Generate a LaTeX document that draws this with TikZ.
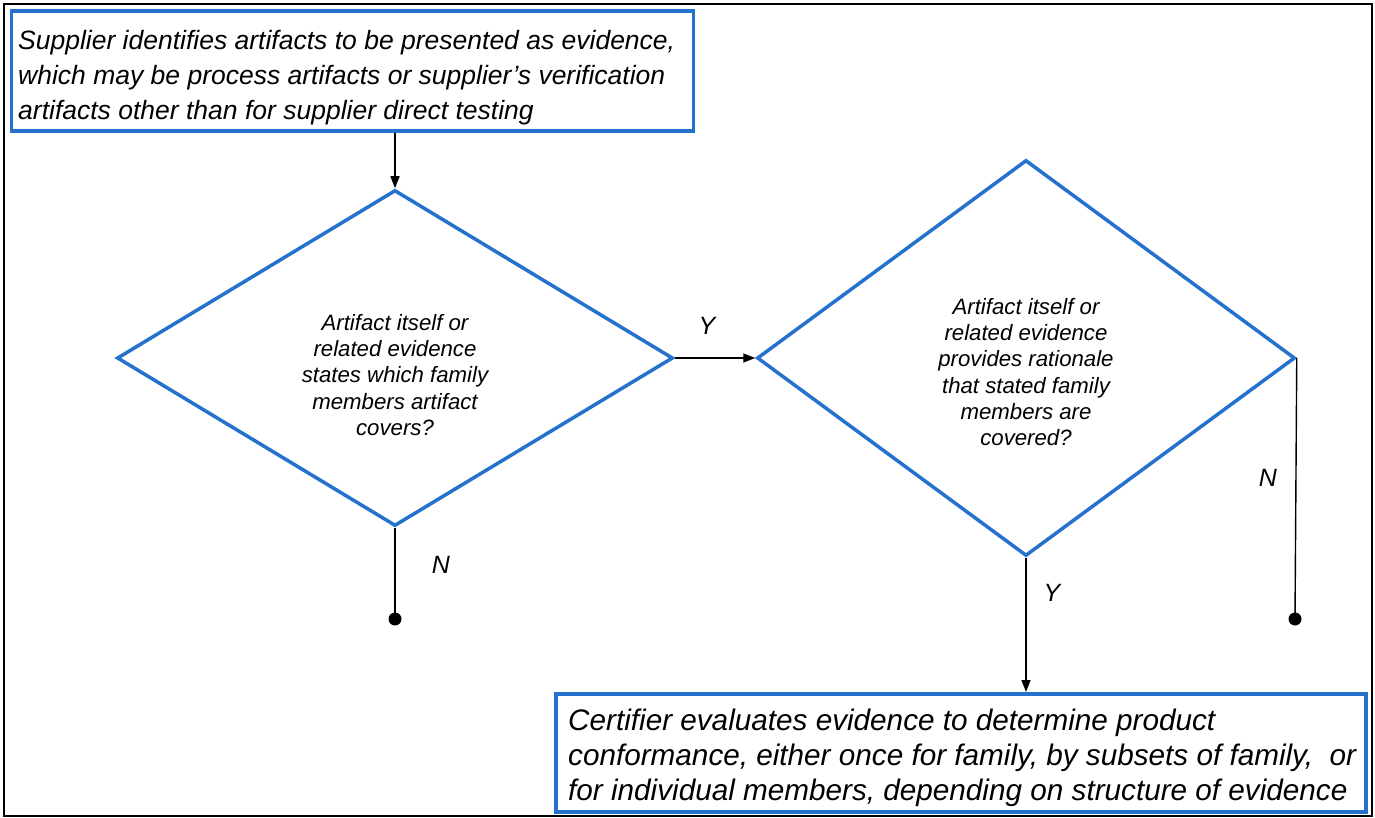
\documentclass[tikz,border=0pt]{standalone}
\usepackage{fontspec}
\setmainfont{Liberation Sans}
\usetikzlibrary{shapes.geometric,arrows.meta}
\definecolor{flowblue}{RGB}{36,114,206}
\tikzset{
  stepbox/.style={draw=flowblue, line width=3.5pt, rectangle, anchor=north west, inner sep=0pt},
  steptext/.style={anchor=north west, inner sep=0pt, align=left},
  decision/.style={draw=flowblue, line width=3.5pt, diamond, inner sep=0pt},
  qtext/.style={align=center, font=\fontsize{22.2}{26.3}\selectfont\itshape},
  flow/.style={draw=black, line width=1.4pt},
  arrowflow/.style={flow, -{Triangle[length=12pt,width=9pt]}},
  branch/.style={font=\fontsize{25}{28}\selectfont\itshape},
  endpoint/.style={circle, fill=black, minimum size=13pt, inner sep=0pt},
}
\begin{document}
\begin{tikzpicture}[x=1pt,y=-1pt]
  \useasboundingbox (0,0) rectangle (1375,818);
  \fill[white] (0,0) rectangle (1375,818);
  \draw[black, line width=2.5pt] (4,4) rectangle (1372,816);

  % start and end boxes
  \node[stepbox, minimum width=682pt, minimum height=120pt] (start) at (9.5,9.5) {};
  \node[steptext, font=\fontsize{26.5}{35}\selectfont\itshape] (starttext) at (18,30)
    {Supplier identifies artifacts to be presented as evidence,\\
     which may be process artifacts or supplier’s verification\\
     artifacts other than for supplier direct testing};

  \node[stepbox, minimum width=810pt, minimum height=118pt] (finish) at (554,692) {};
  \node[steptext, font=\fontsize{29.7}{35}\selectfont\itshape] (finishtext) at (568,709)
    {Certifier evaluates evidence to determine product\\
     conformance, either once for family, by subsets of family,\ \ or\\
     for individual members, depending on structure of evidence};

  % decisions
  \node[decision, minimum width=556pt, minimum height=336pt] (d1) at (395,358) {};
  \node[qtext] (d1text) at (395,375)
    {Artifact itself or\\ related evidence\\ states which family\\ members artifact\\ covers?};

  \node[decision, minimum width=538pt, minimum height=396pt] (d2) at (1026,358) {};
  \node[qtext] (d2text) at (1026,372)
    {Artifact itself or\\ related evidence\\ provides rationale\\ that stated family\\ members are\\ covered?};

  % terminal dots
  \node[endpoint] (end1) at (395,619) {};
  \node[endpoint] (end2) at (1295,619) {};

  % connectors
  \draw[arrowflow] (start.south -| d1.north) -- (d1.north);
  \draw[arrowflow] (d1.east) -- (d2.west);
  \draw[flow] (d1.south) -- (end1.center);
  \draw[flow] (d2.east) -- (end2.center);
  \draw[arrowflow] (d2.south) -- (d2.south |- finish.north);

  % branch labels
  \node[branch] (y1) at (707,326) {Y};
  \node[branch] (n1) at (441,565) {N};
  \node[branch] (n2) at (1268,478) {N};
  \node[branch] (y2) at (1052,593) {Y};
\end{tikzpicture}
\end{document}
